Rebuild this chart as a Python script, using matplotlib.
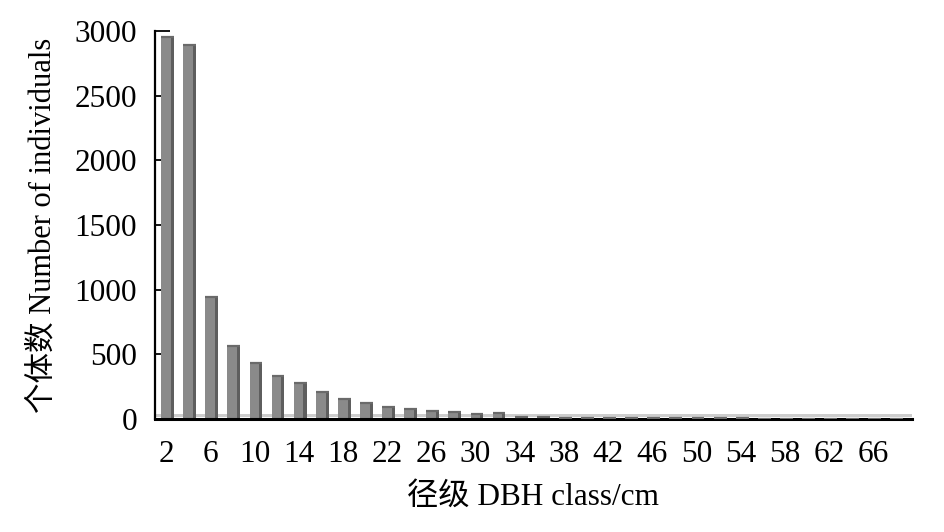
import matplotlib
matplotlib.use("Agg")
import matplotlib.pyplot as plt
import numpy as np

# DBH classes (cm) and number of individuals
dbh_classes = list(range(2, 70, 2))
counts = [2950, 2890, 940, 565, 430, 335, 280, 205, 155, 125, 95, 80, 65, 52, 35, 45,
          14, 12, 10, 9, 8, 7, 6, 5, 5, 4, 4, 3, 3, 3, 2, 2, 2, 1]
tick_labels = [str(c) if i % 2 == 0 else "" for i, c in enumerate(dbh_classes)]

plt.rcParams['font.family'] = ['Liberation Serif', 'Noto Sans CJK SC']

fig = plt.figure(figsize=(9.45, 5.32), dpi=100)
ax = fig.add_axes([0.164, 0.2124, 0.801, 0.7293])

x = np.arange(len(dbh_classes))
w = 0.44
d = 0.14
front = '#8a8a8a'
side = '#5e5e5e'
topc = '#6a6a6a'

# floor band
ax.axhspan(12, 38, color='#cdcdcd', zorder=0.5, lw=0)
ax.bar(x, counts, width=w, color=front, zorder=2, lw=0)
ax.bar(x + w / 2 + d / 2, counts, width=d, color=side, zorder=2, lw=0)
ax.hlines(counts, x - w / 2, x + w / 2 + d, colors=topc, lw=1.6, zorder=3)

ax.set_xlim(-0.5, 33.75)
ax.set_ylim(0, 3000)
ax.set_yticks([0, 500, 1000, 1500, 2000, 2500, 3000])
ax.set_xticks(x)
ax.set_xticklabels(tick_labels)

for s in ['top', 'right']:
    ax.spines[s].set_visible(False)
ax.spines['left'].set_linewidth(1.6)
ax.spines['bottom'].set_linewidth(2.2)

ax.tick_params(axis='y', direction='in', length=11, width=1.3, pad=13, labelsize=22.5)
ax.tick_params(axis='x', length=0, pad=15, labelsize=22.5)

ax.set_xlabel('径级 DBH class/cm', fontsize=22.5, labelpad=10)
ax.set_ylabel('个体数 Number of individuals', fontsize=22, labelpad=12)

fig.savefig('out.png', dpi=100)
